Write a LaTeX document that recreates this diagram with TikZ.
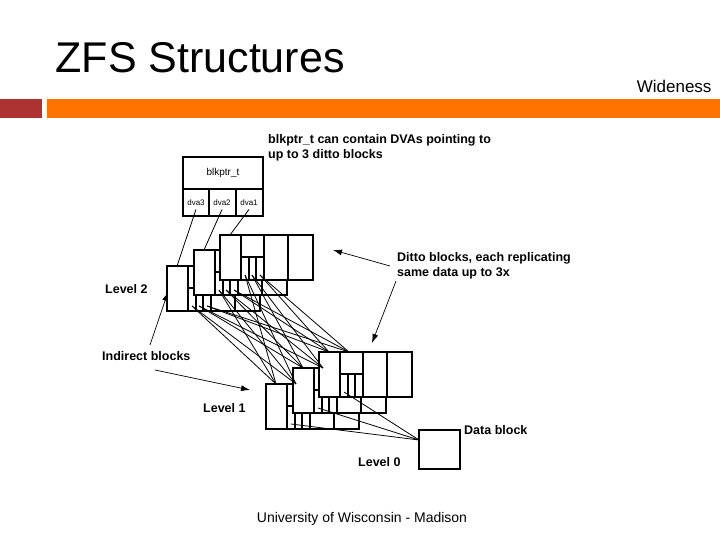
\documentclass[tikz,border=0pt]{standalone}
\usepackage{fontspec}
\setmainfont{Liberation Sans}
\usetikzlibrary{positioning,arrows.meta}
\tikzset{
  cell/.style={draw, line width=1.6pt, fill=white},
  lbl/.style={font=\bfseries\fontsize{12.5}{15}\selectfont, align=left, inner sep=0pt},
  ptr/.style={line width=0.8pt},
  callout/.style={-{Latex[length=9pt,width=6pt]}, line width=0.7pt}
}
% one ditto block, top-left corner (#1,#2), name prefix #3
\newcommand{\dittoblk}[3]{
    \draw[cell] (#1,#2) rectangle ++(93,45);
    \draw[cell] (#1,#2) rectangle ++(21,45);
    \draw[cell] (#1+21,#2) rectangle ++(23,22);
    \draw[line width=1.2pt] (#1+29,#2+22) -- ++(0,23);
    \draw[line width=1.2pt] (#1+36,#2+22) -- ++(0,23);
    \draw[cell] (#1+44,#2) rectangle ++(24,45);
    \coordinate (#3top) at (#1+10,#2);
    \coordinate (#3d1) at (#1+25,#2+40);
    \coordinate (#3d2) at (#1+32,#2+40);
    \coordinate (#3d3) at (#1+40,#2+40);
}
\begin{document}
\begin{tikzpicture}[x=1pt,y=-1pt]
    \useasboundingbox (0,0) rectangle (720,540);

    % slide frame
    \node[anchor=west, font=\fontsize{43}{46}\selectfont] (title) at (52,58) {ZFS Structures};
    \node[anchor=east, font=\fontsize{17}{19}\selectfont] (side) at (715,86) {Wideness};
    \fill[red!60!black!80] (0,99) rectangle (42,118);
    \fill[orange!90!red] (47,99) rectangle (720,118);
    \node[font=\fontsize{14}{16}\selectfont] (foot) at (362,519) {University of Wisconsin - Madison};

    % blkptr_t
    \draw[cell] (183,157) rectangle (263,216);
    \draw[line width=1.6pt] (183,189) -- (263,189);
    \draw[line width=1.6pt] (209,189) -- (209,216);
    \draw[line width=1.6pt] (236,189) -- (236,216);
    \node[font=\fontsize{10}{12}\selectfont] (bp) at (223,173) {blkptr\_t};
    \node[font=\fontsize{8}{10}\selectfont] (dva3) at (196,203) {dva3};
    \node[font=\fontsize{8}{10}\selectfont] (dva2) at (222,203) {dva2};
    \node[font=\fontsize{8}{10}\selectfont] (dva1) at (249,203) {dva1};

    % level 2 and level 1 ditto blocks
    \dittoblk{167}{266}{a}
    \dittoblk{194}{250}{b}
    \dittoblk{220}{235}{c}
    \dittoblk{266}{384}{p}
    \dittoblk{293}{368}{q}
    \dittoblk{319}{352}{r}

    % data block
    \draw[cell] (419,430) rectangle (460,469);
    \coordinate (data) at (419,440);

    % pointers
    \draw[ptr] (dva3.south) -- (atop);
    \draw[ptr] (dva2.south) -- (btop);
    \draw[ptr] (dva1.south) -- (ctop);
    \foreach \s in {a,b,c}{
        \draw[ptr] (\s d1) -- (ptop);
        \draw[ptr] (\s d2) -- (qtop);
        \draw[ptr] (\s d3) -- (rtop);
        \draw[ptr] (\s d1) -- ([xshift=20]ptop);
        \draw[ptr] (\s d2) -- ([xshift=20]qtop);
        \draw[ptr] (\s d3) -- ([xshift=20]rtop);
    }
    \foreach \s in {p,q,r}{
        \draw[ptr] (\s d1) -- (data);
    }

    % labels
    \node[lbl, anchor=north west] (note) at (268,134) {blkptr\_t can contain DVAs pointing to\\up to 3 ditto blocks};
    \node[lbl, anchor=north west] (ditto) at (397,252) {Ditto blocks, each replicating\\same data up to 3x};
    \node[lbl, anchor=west] (lv2) at (105,289) {Level 2};
    \node[lbl, anchor=west] (ind) at (102,356) {Indirect blocks};
    \node[lbl, anchor=west] (lv1) at (203,408) {Level 1};
    \node[lbl, anchor=west] (db) at (464,430) {Data block};
    \node[lbl, anchor=west] (lv0) at (358,462) {Level 0};

    \draw[callout] (390,266) -- (333,250);
    \draw[callout] (396,281) -- (372,343);
    \draw[callout] (150,345) -- (168,292);
    \draw[callout] (155,370) -- (250,390);
\end{tikzpicture}
\end{document}
